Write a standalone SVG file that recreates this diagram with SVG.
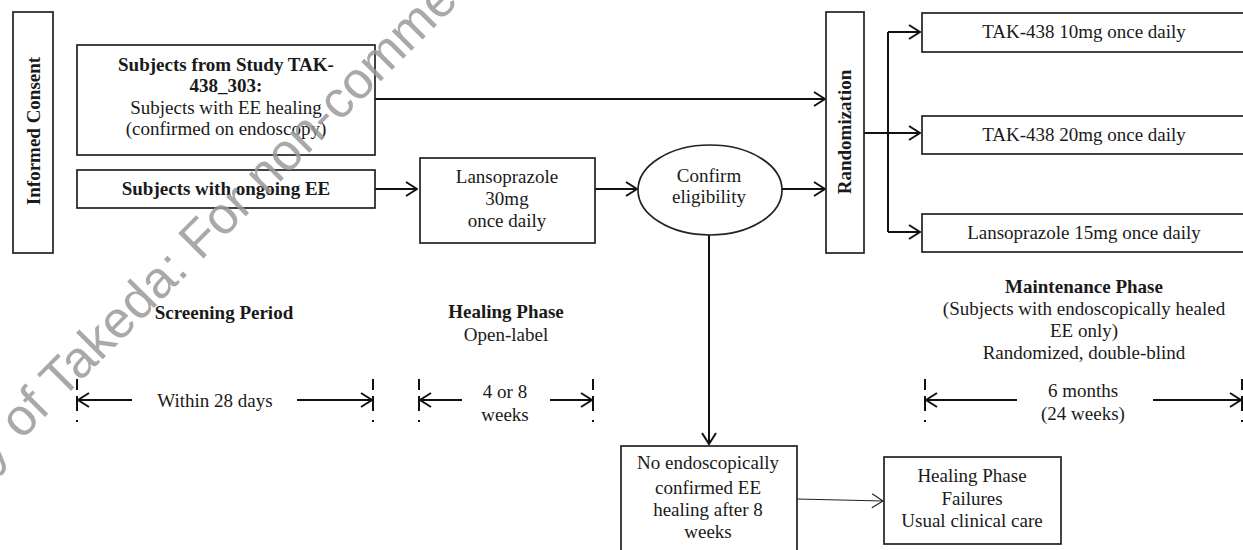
<svg xmlns="http://www.w3.org/2000/svg" width="1243" height="550" viewBox="0 0 1243 550">
<defs>
<style>
.box{fill:#fff;stroke:#222;stroke-width:1.7}
.t{font-family:"Liberation Serif","Times New Roman",serif;font-size:19px;fill:#1a1a1a;text-anchor:middle}
.b{font-weight:bold}
.c{fill:none;stroke:#111;stroke-width:2}
.thin{fill:none;stroke:#222;stroke-width:1.2}
.tick{fill:none;stroke:#111;stroke-width:2;stroke-dasharray:11 6 15 9 2 40}
.wm{font-family:"Liberation Sans",Arial,sans-serif;font-size:52px;fill:#9a9a9a;fill-opacity:0.85}
</style>
<marker id="arr" viewBox="0 0 14 16" refX="13" refY="8" markerWidth="14" markerHeight="16" orient="auto" markerUnits="userSpaceOnUse">
<path d="M2,1 L13,8 L2,15" fill="none" stroke="#111" stroke-width="2"/>
</marker>
<marker id="arrThin" viewBox="0 0 14 16" refX="13" refY="8" markerWidth="14" markerHeight="16" orient="auto" markerUnits="userSpaceOnUse">
<path d="M2,1 L13,8 L2,15" fill="none" stroke="#222" stroke-width="1.2"/>
</marker>
</defs>
<rect width="1243" height="550" fill="#fff"/>

<g id="connectors">
<path class="c" d="M375,99 H825" marker-end="url(#arr)"/>
<path class="c" d="M375,189 H417" marker-end="url(#arr)"/>
<path class="c" d="M595,189 H637" marker-end="url(#arr)"/>
<path class="c" d="M782,189 H825" marker-end="url(#arr)"/>
<path class="c" d="M864,133 H920" marker-end="url(#arr)"/>
<path class="c" d="M888,32 V232"/>
<path class="c" d="M888,32 H920" marker-end="url(#arr)"/>
<path class="c" d="M888,232 H920" marker-end="url(#arr)"/>
<path class="c" d="M709,235 V444" marker-end="url(#arr)"/>
<path class="thin" d="M797,499 L883,501" marker-end="url(#arrThin)"/>
</g>

<g id="informed-consent">
<rect class="box" x="13" y="12" width="40" height="241"/>
<text class="t b" transform="translate(40,131) rotate(-90)">Informed Consent</text>
</g>

<g id="subjects-303">
<rect class="box" x="77" y="45" width="298" height="110"/>
<text class="t b" x="226" y="71">Subjects from Study TAK-</text>
<text class="t b" x="226" y="92">438_303:</text>
<text class="t" x="226" y="114">Subjects with EE healing</text>
<text class="t" x="226" y="135">(confirmed on endoscopy)</text>
</g>

<g id="subjects-ongoing">
<rect class="box" x="77" y="170" width="298" height="38"/>
<text class="t b" x="226" y="195">Subjects with ongoing EE</text>
</g>

<g id="lansoprazole-30">
<rect class="box" x="420" y="158" width="175" height="85"/>
<text class="t" x="507" y="183">Lansoprazole</text>
<text class="t" x="507" y="205">30mg</text>
<text class="t" x="507" y="227">once daily</text>
</g>

<g id="confirm-eligibility">
<ellipse class="box" cx="710" cy="190" rx="72" ry="45"/>
<text class="t" x="709" y="182">Confirm</text>
<text class="t" x="709" y="203">eligibility</text>
</g>

<g id="randomization">
<rect class="box" x="826" y="12" width="38" height="241"/>
<text class="t b" transform="translate(851,132) rotate(-90)">Randomization</text>
</g>

<g id="tak-10">
<rect class="box" x="922" y="13" width="322" height="39"/>
<text class="t" x="1084" y="38">TAK-438 10mg once daily</text>
</g>

<g id="tak-20">
<rect class="box" x="922" y="116" width="322" height="38"/>
<text class="t" x="1084" y="141">TAK-438 20mg once daily</text>
</g>

<g id="lansoprazole-15">
<rect class="box" x="922" y="214" width="322" height="38"/>
<text class="t" x="1084" y="239">Lansoprazole 15mg once daily</text>
</g>

<g id="no-healing">
<rect class="box" x="621" y="446" width="176" height="108"/>
<text class="t" x="708" y="469">No endoscopically</text>
<text class="t" x="708" y="494">confirmed EE</text>
<text class="t" x="708" y="516">healing after 8</text>
<text class="t" x="708" y="538">weeks</text>
</g>

<g id="healing-failures">
<rect class="box" x="884" y="457" width="177" height="87"/>
<text class="t" x="972" y="482">Healing Phase</text>
<text class="t" x="972" y="505">Failures</text>
<text class="t" x="972" y="527">Usual clinical care</text>
</g>

<g id="screening-period">
<text class="t b" x="224" y="319">Screening Period</text>
<path class="tick" d="M77,379 V424"/>
<path class="tick" d="M373,379 V424"/>
<path class="c" d="M132,400 H78" marker-end="url(#arr)"/>
<path class="c" d="M297,400 H372" marker-end="url(#arr)"/>
<text class="t" x="215" y="407">Within 28 days</text>
</g>

<g id="healing-phase">
<text class="t b" x="506" y="318">Healing Phase</text>
<text class="t" x="506" y="341">Open-label</text>
<path class="tick" d="M419,379 V424"/>
<path class="tick" d="M593,379 V424"/>
<path class="c" d="M462,400 H420" marker-end="url(#arr)"/>
<path class="c" d="M550,400 H592" marker-end="url(#arr)"/>
<text class="t" x="505" y="398">4 or 8</text>
<text class="t" x="505" y="421">weeks</text>
</g>

<g id="maintenance-phase">
<text class="t b" x="1084" y="293">Maintenance Phase</text>
<text class="t" x="1084" y="315">(Subjects with endoscopically healed</text>
<text class="t" x="1084" y="337">EE only)</text>
<text class="t" x="1084" y="359">Randomized, double-blind</text>
<path class="tick" d="M925,379 V424"/>
<path class="tick" d="M1242,379 V424"/>
<path class="c" d="M1017,400 H926" marker-end="url(#arr)"/>
<path class="c" d="M1153,400 H1241" marker-end="url(#arr)"/>
<text class="t" x="1083" y="397">6 months</text>
<text class="t" x="1083" y="420">(24 weeks)</text>
</g>

<text class="wm" transform="translate(-128,590) rotate(-45)">Property of Takeda: For non-commercial use</text>
</svg>
